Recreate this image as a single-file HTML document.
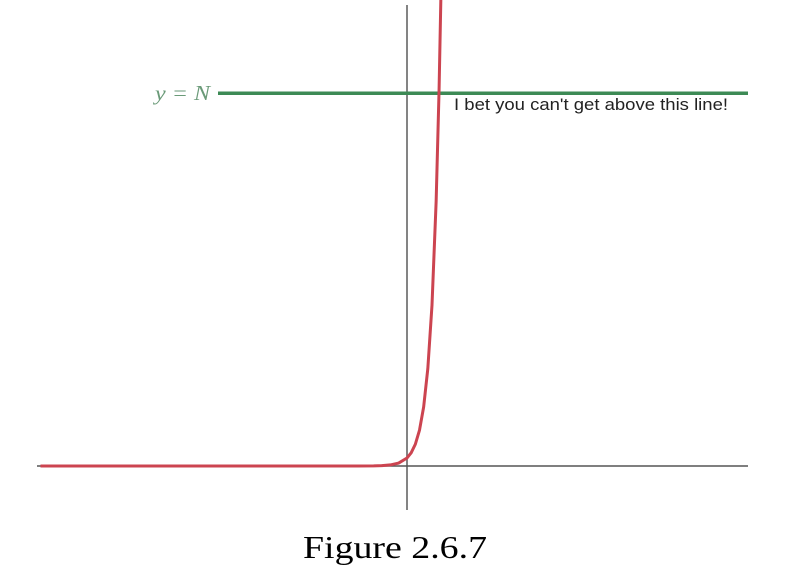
<!DOCTYPE html>
<html><head><meta charset="utf-8"><style>
html,body{margin:0;padding:0;background:#fff;width:788px;height:575px;overflow:hidden}
svg{display:block}
</style></head><body>
<svg id="chart" width="788" height="575" viewBox="0 0 788 575">
<line x1="407" y1="5" x2="407" y2="510" stroke="#666" stroke-width="1.6"/>
<line x1="37" y1="466" x2="748" y2="466" stroke="#555" stroke-width="1.6"/>
<line id="nline" x1="218" x2="748" stroke="#3d8a55" stroke-width="3.5"/>
<text x="155" y="100" textLength="55" lengthAdjust="spacingAndGlyphs" font-family="'Liberation Serif',serif" font-style="italic" font-size="21" fill="#6a9a78">y = N</text>
<text x="454" y="110" textLength="274" lengthAdjust="spacingAndGlyphs" font-family="'Liberation Sans',sans-serif" font-size="17" fill="#222">I bet you can't get above this line!</text>
<path id="curve" fill="none" stroke="#cc4450" stroke-width="3"/>
<text x="395" y="558" text-anchor="middle" textLength="184" lengthAdjust="spacingAndGlyphs" font-family="'Liberation Serif',serif" font-size="32" fill="#000">Figure 2.6.7</text>
</svg>
<script>
const xValues = [-44, -20, -10, -6, -4, -3, -2, -1, 0, 0.5, 1, 1.5, 2, 2.5, 3, 3.5, 3.85, 4.1];
const yValues = [0, 0, 0, 0.0025, 0.018, 0.05, 0.135, 0.37, 1, 1.65, 2.72, 4.48, 7.39, 12.18, 20.09, 33.1, 47, 60.3];
const nValue = [46.6];
function sx(x){return 407 + 8.33*x;}
function sy(y){return 466 - 8*y;}
let d = '';
xValues.forEach((x,i)=>{d += (i?'L':'M') + sx(x).toFixed(2) + ' ' + sy(yValues[i]).toFixed(2) + ' ';});
document.getElementById('curve').setAttribute('d', d);
const nl = document.getElementById('nline');
nl.setAttribute('y1', sy(nValue[0]));
nl.setAttribute('y2', sy(nValue[0]));
</script>
</body></html>
